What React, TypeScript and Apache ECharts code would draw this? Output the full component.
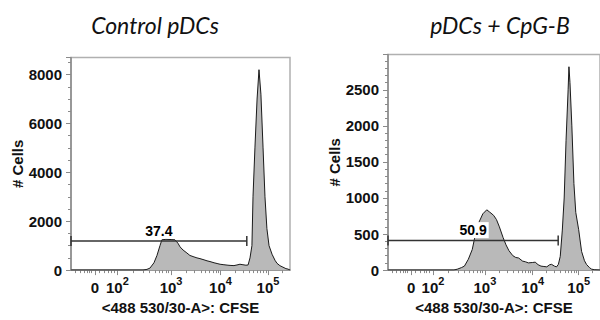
import React, { useEffect, useRef } from "react";
import * as echarts from "echarts";

// x values are display channels (0..1024) of the logicle-scaled CFSE axis
const leftX = [0, 337, 355, 369, 388, 402, 416, 425, 444, 468, 486, 500, 510, 524, 542, 556, 575, 589, 603, 622, 636, 650, 669, 683, 697, 715, 734, 748, 762, 776, 790, 804, 818, 828, 837, 846, 851, 860, 870, 879, 888, 898, 907, 916, 926, 940, 954, 963, 977, 991, 1005, 1015, 1024];
const leftY = [0, 0, 30, 80, 300, 600, 1000, 1240, 1260, 1250, 1240, 1100, 950, 820, 700, 600, 540, 500, 470, 420, 380, 350, 300, 270, 240, 220, 200, 190, 185, 210, 240, 220, 200, 210, 500, 1000, 3000, 5000, 7000, 8200, 7200, 5000, 3000, 1700, 1000, 650, 400, 280, 180, 120, 60, 40, 0];

const rightX = [0, 318, 337, 355, 369, 388, 407, 421, 440, 458, 477, 491, 510, 524, 538, 556, 570, 584, 603, 617, 631, 650, 664, 678, 697, 711, 725, 739, 753, 767, 781, 790, 804, 814, 823, 832, 842, 851, 860, 870, 874, 879, 888, 898, 907, 921, 935, 949, 959, 973, 982, 996, 1024];
const rightY = [0, 0, 15, 35, 55, 150, 286, 480, 668, 780, 836, 805, 760, 700, 600, 450, 350, 270, 200, 175, 168, 125, 115, 100, 105, 110, 75, 55, 50, 45, 75, 80, 55, 45, 80, 191, 555, 1000, 1800, 2500, 2820, 2600, 2000, 1200, 800, 560, 260, 130, 78, 35, 15, 5, 0];

const xTickChannels = [112, 217, 468, 699, 921];
const xTickBase = ["0", "10", "10", "10", "10"];
const xTickExp = ["", "2", "3", "4", "5"];
const xMinorTicks = [19, 42, 61, 75, 84, 94, 131, 154, 173, 187, 201, 293, 337, 368, 392, 412, 429, 444, 456, 538, 578, 607, 629, 648, 663, 677, 688, 766, 805, 833, 854, 872, 887, 899, 911, 988];

const titles = ["Control pDCs", "pDCs + CpG-B"];
const gateX = [0, 822];
const gateY = [1186, 409];
const gateLabels = ["37.4", "50.9"];
const yMax = [8700, 2990];
const yInterval = [2000, 500];
const yMinorSplit = [4, 5];
const xName = "<488 530/30-A>: CFSE";
const yName = "# Cells";

const FONT = "'Liberation Sans', Arial, sans-serif";
const AXIS = "#8a8a8a";
const INK = "#111";

export default function App() {
  const ref = useRef<HTMLDivElement>(null);
  useEffect(() => {
    if (!ref.current) return;
    const chart = echarts.init(ref.current, undefined, { renderer: "svg" });

    const grids = [
      { left: 71, top: 57.5, width: 219, height: 219.5 },
      { left: 388, top: 54.5, width: 219, height: 219.5 },
    ];

    const fmt = (v: number) => {
      const i = xTickChannels.indexOf(Math.round(v));
      if (i < 0) return "";
      if (!xTickExp[i]) return "{b|" + xTickBase[i] + "}";
      return "{b|" + xTickBase[i] + "}{s|" + xTickExp[i] + "}";
    };

    const xAxes: any[] = [];
    const yAxes: any[] = [];
    const series: any[] = [];
    [0, 1].forEach((g) => {
      xAxes.push({
        gridIndex: g,
        type: "value",
        min: 0,
        max: 1024,
        position: "bottom",
        axisLine: { show: true, lineStyle: { color: AXIS, width: 1.5 } },
        axisTick: { show: true, customValues: xTickChannels, length: 5, lineStyle: { color: AXIS } },
        axisLabel: {
          show: true,
          customValues: xTickChannels,
          formatter: fmt,
          margin: 5,
          rich: {
            b: { fontFamily: FONT, fontWeight: "bold", fontSize: 15, color: INK, lineHeight: 20, verticalAlign: "bottom" },
            s: { fontFamily: FONT, fontWeight: "bold", fontSize: 11, color: INK, lineHeight: 11, verticalAlign: "top" },
          },
        },
        splitLine: { show: false },
        name: xName,
        nameLocation: "middle",
        nameGap: 20,
        nameTextStyle: { fontFamily: FONT, fontWeight: "bold", fontSize: 15, color: INK },
      });
      xAxes.push({
        gridIndex: g,
        type: "value",
        min: 0,
        max: 1024,
        position: "bottom",
        axisLine: { show: false },
        axisTick: { show: true, customValues: xMinorTicks, length: 3, lineStyle: { color: AXIS } },
        axisLabel: { show: false },
        splitLine: { show: false },
      });
      yAxes.push({
        gridIndex: g,
        type: "value",
        min: 0,
        max: yMax[g],
        interval: yInterval[g],
        axisLine: { show: true, lineStyle: { color: AXIS, width: 1.5 } },
        axisTick: { show: true, length: 5, lineStyle: { color: AXIS } },
        minorTick: { show: true, splitNumber: yMinorSplit[g], length: 3, lineStyle: { color: AXIS } },
        axisLabel: {
          fontFamily: FONT,
          fontWeight: "bold",
          fontSize: 15,
          color: INK,
          margin: 9,
          showMaxLabel: false,
          formatter: (v: number) => String(v),
        },
        splitLine: { show: false },
        name: yName,
        nameLocation: "middle",
        nameGap: g === 0 ? 43 : 44,
        nameTextStyle: { fontFamily: FONT, fontWeight: "bold", fontSize: 15, color: INK },
      });
      const xs = g === 0 ? leftX : rightX;
      const ys = g === 0 ? leftY : rightY;
      series.push({
        type: "line",
        xAxisIndex: g * 2,
        yAxisIndex: g,
        data: xs.map((x, i) => [x, ys[i]]),
        symbol: "none",
        lineStyle: { color: "#1a1a1a", width: 1 },
        areaStyle: { color: "#b9b9b9", opacity: 1 },
        z: 2,
        silent: true,
      });
      series.push({
        type: "line",
        xAxisIndex: g * 2,
        yAxisIndex: g,
        data: gateX.map((x) => [x, gateY[g]]),
        symbol: "rect",
        symbolSize: [1.5, 10],
        showAllSymbol: true,
        itemStyle: { color: "#333" },
        lineStyle: { color: "#333", width: 1.5 },
        z: 3,
        silent: true,
      });
      series.push({
        type: "scatter",
        xAxisIndex: g * 2,
        yAxisIndex: g,
        data: [[(gateX[0] + gateX[1]) / 2, gateY[g]]],
        symbolSize: 1,
        itemStyle: { color: "rgba(0,0,0,0)" },
        label: {
          show: true,
          position: "top",
          distance: 2,
          formatter: gateLabels[g],
          fontFamily: FONT,
          fontWeight: "bold",
          fontSize: 14,
          color: "#000",
          opacity: 1,
          backgroundColor: "#fff",
          padding: [1, 2],
        },
        z: 4,
        silent: true,
      });
    });

    chart.setOption({
      animation: false,
      grid: grids.map((g) => ({ ...g, show: true, borderColor: "#b0b0b0", borderWidth: 1.5, backgroundColor: "transparent" })),
      xAxis: xAxes,
      yAxis: yAxes,
      series,
      graphic: [
        { type: "text", x: 155, y: 25, style: { text: titles[0], font: "italic 23px Lato, sans-serif", fill: INK, textAlign: "center", textVerticalAlign: "middle" } },
        { type: "text", x: 500, y: 25, style: { text: titles[1], font: "italic 23px Lato, sans-serif", fill: INK, textAlign: "center", textVerticalAlign: "middle" } },
      ],
    });
    return () => chart.dispose();
  }, []);
  return <div ref={ref} style={{ position: "absolute", left: 0, top: 0, width: 600, height: 320, background: "#fff" }} />;
}
